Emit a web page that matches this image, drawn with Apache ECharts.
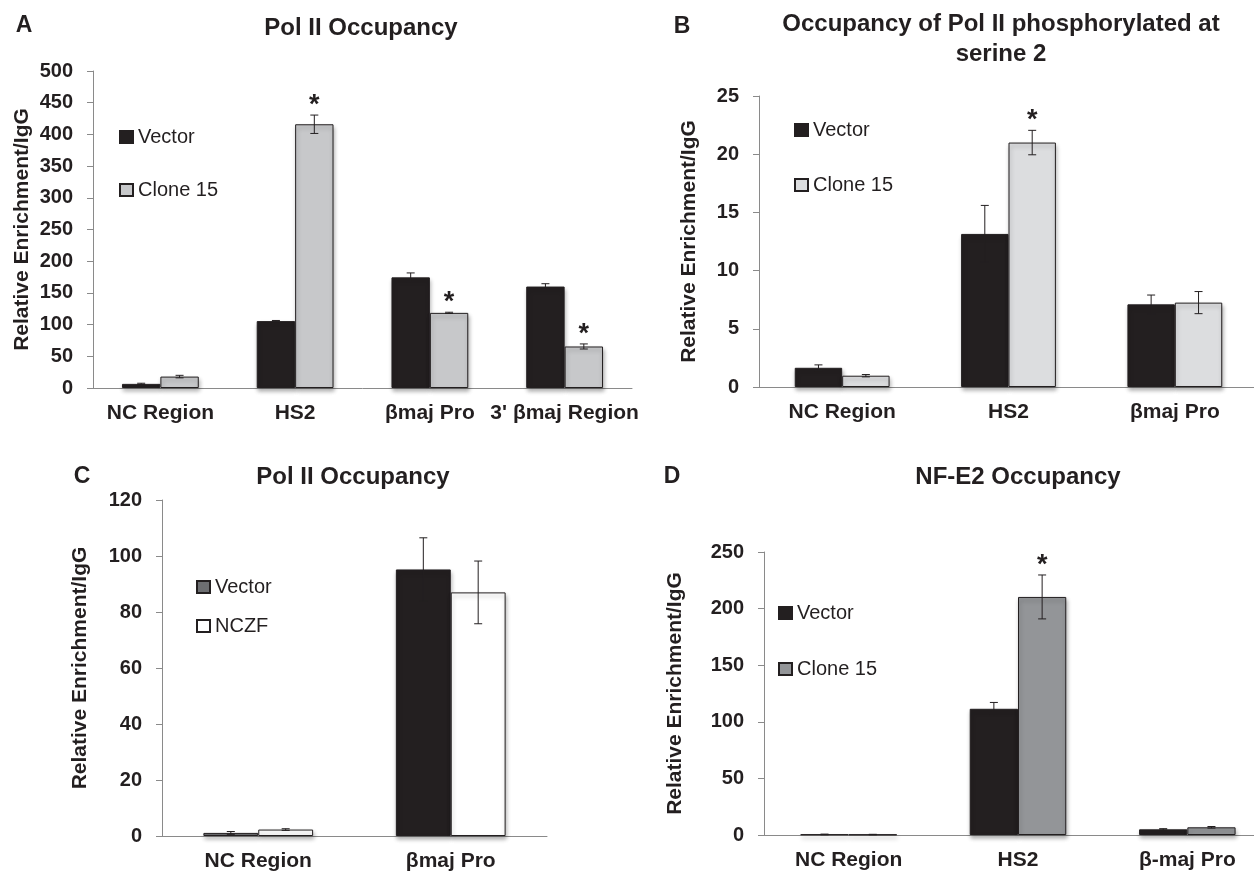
<!DOCTYPE html>
<html>
<head>
<meta charset="utf-8">
<title>Pol II / NF-E2 occupancy</title>
<script src="https://cdn.jsdelivr.net/npm/echarts@6/dist/echarts.min.js"></script>
<style>
  html, body { margin: 0; padding: 0; background: #fff; }
  #chart { width: 1254px; height: 872px; }
</style>
</head>
<body>
<div id="chart"></div>
<script>
// panel A - Pol II occupancy
var catsA = ['NC Region', 'HS2', 'βmaj Pro', "3' βmaj Region"];
var vecA = [6.5, 105.5, 174.5, 160];
var vecErrA = [1, 1, 7, 4.5];
var cloneA = [18, 416, 118.5, 65.5];
var cloneErrA = [2, 14.5, 1, 4];
var sigA = [0, 1, 1, 1];

// panel B - Pol II phosphorylated at serine 2
var catsB = ['NC Region', 'HS2', 'βmaj Pro'];
var vecB = [1.65, 13.15, 7.1];
var vecErrB = [0.25, 2.45, 0.8];
var cloneB = [0.97, 21.0, 7.25];
var cloneErrB = [0.1, 1.05, 0.95];
var sigB = [0, 1, 0];

// panel C - Pol II occupancy, NCZF
var catsC = ['NC Region', 'βmaj Pro'];
var vecC = [1.1, 95.2];
var vecErrC = [0.5, 11.3];
var nczfC = [2.3, 87];
var nczfErrC = [0.3, 11.2];
var sigC = [0, 0];

// panel D - NF-E2 occupancy
var catsD = ['NC Region', 'HS2', 'β-maj Pro'];
var vecD = [0.5, 111.5, 5];
var vecErrD = [0.3, 5.6, 0.6];
var cloneD = [0.4, 210.3, 6.8];
var cloneErrD = [0.2, 19.4, 0.7];
var sigD = [0, 1, 0];

var FONT = "'Liberation Sans', Arial, sans-serif";
var INK = '#231f20';
var GAP = 0.43;   // barCategoryGap

var chart = echarts.init(document.getElementById('chart'));

function errData(vals, errs) {
	return vals.map(function (v, i) { return [i, v, errs[i]]; });
}

// error bar (+ star) drawn on the left (-1) or right (+1) bar of each group
function errRender(sig, side) {
	return function (params, api) {
		var ci = api.value(0), v = api.value(1), e = api.value(2);
		var band = api.size([1, 0])[0];
		var bw = band * (1 - GAP) / 2;
		var x = api.coord([ci, v])[0] + side * bw / 2;
		var yTop = api.coord([ci, v + e])[1];
		var yBot = api.coord([ci, Math.max(v - e, 0)])[1];
		var st = { stroke: INK, lineWidth: 1 };
		var kids = [
			{ type: 'line', shape: { x1: x, y1: yTop, x2: x, y2: yBot }, style: st },
			{ type: 'line', shape: { x1: x - 4, y1: yTop, x2: x + 4, y2: yTop }, style: st },
			{ type: 'line', shape: { x1: x - 4, y1: yBot, x2: x + 4, y2: yBot }, style: st }
		];
		if (sig[params.dataIndex]) {
			kids.push({
				type: 'text', x: x, y: yTop - 23,
				style: { text: '*', font: 'bold 27px ' + FONT, fill: INK, align: 'center', verticalAlign: 'top' }
			});
		}
		return { type: 'group', children: kids };
	};
}

// outerBoundsMode none: panels B and D run past the right edge like the original
var grids = [
	{ left: 93, top: 71, width: 539, height: 317, outerBoundsMode: 'none' },
	{ left: 759, top: 96, width: 499, height: 291, outerBoundsMode: 'none' },
	{ left: 162, top: 500, width: 385, height: 336, outerBoundsMode: 'none' },
	{ left: 764, top: 552, width: 508, height: 283, outerBoundsMode: 'none' }
];

function xAx(idx, cats) {
	return {
		type: 'category', gridIndex: idx, data: cats,
		axisLine: { lineStyle: { color: '#8a8a8a', width: 1 } },
		axisTick: { show: false },
		axisLabel: { color: INK, fontSize: 21, fontWeight: 'bold', fontFamily: FONT, margin: 15, interval: 0 }
	};
}
function yAx(idx, max, step, gap) {
	return {
		type: 'value', gridIndex: idx, min: 0, max: max, interval: step,
		name: 'Relative Enrichment/IgG', nameLocation: 'middle', nameGap: gap,
		nameTextStyle: { color: INK, fontSize: 21, fontWeight: 'bold', fontFamily: FONT },
		splitLine: { show: false },
		axisLine: { show: true, lineStyle: { color: '#8a8a8a', width: 1 } },
		axisTick: { show: true, length: 6, lineStyle: { color: '#8a8a8a' } },
		axisLabel: { color: INK, fontSize: 20, fontWeight: 'bold', fontFamily: FONT, margin: 20 }
	};
}

var shadow = { shadowColor: 'rgba(0,0,0,0.3)', shadowBlur: 4, shadowOffsetX: 1, shadowOffsetY: 3 };

function barSeries(name, idx, vals, fill) {
	return {
		name: name, type: 'bar', xAxisIndex: idx, yAxisIndex: idx, data: vals,
		barGap: '0%', barCategoryGap: (GAP * 100) + '%',
		itemStyle: Object.assign({ color: fill, borderColor: INK, borderWidth: 1 }, shadow),
		emphasis: { disabled: true }
	};
}
function errSeries(idx, vals, errs, sig, side) {
	return {
		type: 'custom', name: 'err' + idx + side, xAxisIndex: idx, yAxisIndex: idx,
		data: errData(vals, errs), renderItem: errRender(sig, side), z: 5,
		encode: { x: 0, y: 1 }, silent: true
	};
}

var cVec = barSeries('C|Vector', 2, vecC, function (p) { return p.dataIndex === 0 ? '#6d6e71' : INK; });

function legendAt(left, top, gap, items) {
	return {
		left: left, top: top, orient: 'vertical', itemGap: gap, padding: 0,
		icon: 'rect', itemWidth: 13, itemHeight: 12, selectedMode: false,
		textStyle: { color: INK, fontSize: 20, fontFamily: FONT },
		formatter: function (n) { return n.split('|')[1]; },
		data: items
	};
}

function label(text, x, y, size) {
	return {
		type: 'text', x: x, y: y,
		style: { text: text, font: 'bold ' + size + 'px ' + FONT, fill: INK, align: 'center', verticalAlign: 'middle' }
	};
}

chart.setOption({
	backgroundColor: '#ffffff',
	animation: false,
	textStyle: { fontFamily: FONT },
	grid: grids,
	xAxis: [xAx(0, catsA), xAx(1, catsB), xAx(2, catsC), xAx(3, catsD)],
	yAxis: [yAx(0, 500, 50, 60), yAx(1, 25, 5, 59), yAx(2, 120, 20, 71), yAx(3, 250, 50, 78)],
	legend: [
		legendAt(119, 127, 33, ['A|Vector', 'A|Clone 15']),
		legendAt(794, 120, 35, ['B|Vector', 'B|Clone 15']),
		legendAt(196, 577, 19, [{ name: 'C|Vector', itemStyle: { color: '#6d6e71' } }, 'C|NCZF']),
		legendAt(778, 603, 36, ['D|Vector', 'D|Clone 15'])
	],
	graphic: [
		label('A', 24, 26, 23),
		label('Pol II Occupancy', 361, 28, 24),
		label('B', 682, 27, 23),
		label('Occupancy of Pol II phosphorylated at', 1001, 24, 24),
		label('serine 2', 1001, 54, 24),
		label('C', 82, 477, 23),
		label('Pol II Occupancy', 353, 477, 24),
		label('D', 672, 477, 23),
		label('NF-E2 Occupancy', 1018, 477, 24)
	],
	series: [
		barSeries('A|Vector', 0, vecA, INK),
		barSeries('A|Clone 15', 0, cloneA, '#c7c8ca'),
		errSeries(0, vecA, vecErrA, [0, 0, 0, 0], -1),
		errSeries(0, cloneA, cloneErrA, sigA, 1),

		barSeries('B|Vector', 1, vecB, INK),
		barSeries('B|Clone 15', 1, cloneB, '#dcdddf'),
		errSeries(1, vecB, vecErrB, [0, 0, 0], -1),
		errSeries(1, cloneB, cloneErrB, sigB, 1),

		cVec,
		barSeries('C|NCZF', 2, nczfC, '#ffffff'),
		errSeries(2, vecC, vecErrC, [0, 0], -1),
		errSeries(2, nczfC, nczfErrC, sigC, 1),

		barSeries('D|Vector', 3, vecD, INK),
		barSeries('D|Clone 15', 3, cloneD, '#939598'),
		errSeries(3, vecD, vecErrD, [0, 0, 0], -1),
		errSeries(3, cloneD, cloneErrD, sigD, 1)
	]
});
</script>
</body>
</html>
